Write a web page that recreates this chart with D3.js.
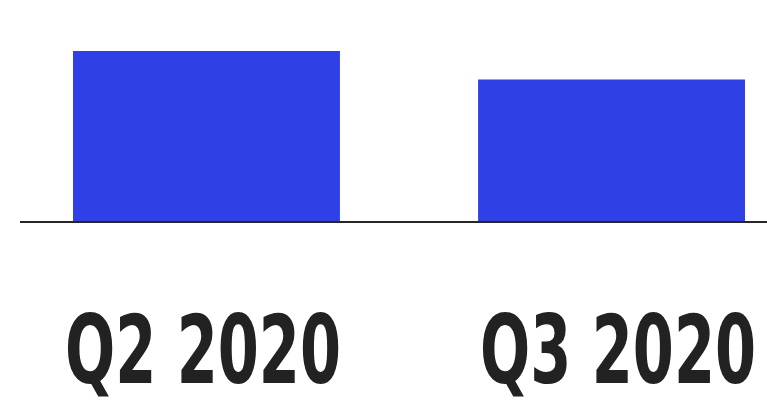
<!DOCTYPE html>
<html>
<head>
<meta charset="utf-8">
<script src="https://cdn.jsdelivr.net/npm/d3@7"></script>
<style>
  html, body { margin: 0; padding: 0; background: #ffffff; }
  svg { display: block; }
</style>
</head>
<body>
<script>
const categories = ["Q2 2020", "Q3 2020"];
const values = [120, 100];

const W = 767, H = 408;
const svg = d3.select("body").append("svg").attr("width", W).attr("height", H);

const x = d3.scaleBand().domain(categories).range([73, 745]).paddingInner(0.341).paddingOuter(0);
const xLabel = d3.scaleBand().domain(categories).range([65, 756]).paddingInner(0.335).paddingOuter(0);
const y = d3.scaleLinear().domain([0, 120]).range([222, 51]);

svg.append("g").selectAll("rect").data(categories).join("rect")
  .attr("x", d => x(d))
  .attr("y", (d, i) => y(values[i]))
  .attr("width", x.bandwidth())
  .attr("height", (d, i) => y(0) - y(values[i]))
  .attr("fill", "#2f41e6");

svg.append("line")
  .attr("x1", 20).attr("x2", W)
  .attr("y1", y(0)).attr("y2", y(0))
  .attr("stroke", "#262626").attr("stroke-width", 2);

const baseSize = 94;
const labels = svg.append("g").selectAll("text").data(categories).join("text")
  .attr("x", 0)
  .attr("y", 0)
  .attr("text-anchor", "middle")
  .style("font-family", "'Liberation Sans Narrow', 'DejaVu Sans Condensed', 'Arial Narrow', sans-serif")
  .style("font-weight", "bold")
  .style("font-size", baseSize + "px")
  .attr("fill", "#222222")
  .text(d => d);

labels.each(function(d) {
  const len = this.getComputedTextLength();
  const fs = baseSize * xLabel.bandwidth() / len;
  const sy = baseSize / fs;
  d3.select(this)
    .style("font-size", fs + "px")
    .attr("transform", `translate(${xLabel(d) + xLabel.bandwidth() / 2},383) scale(1,${sy})`);
});
</script>
</body>
</html>
